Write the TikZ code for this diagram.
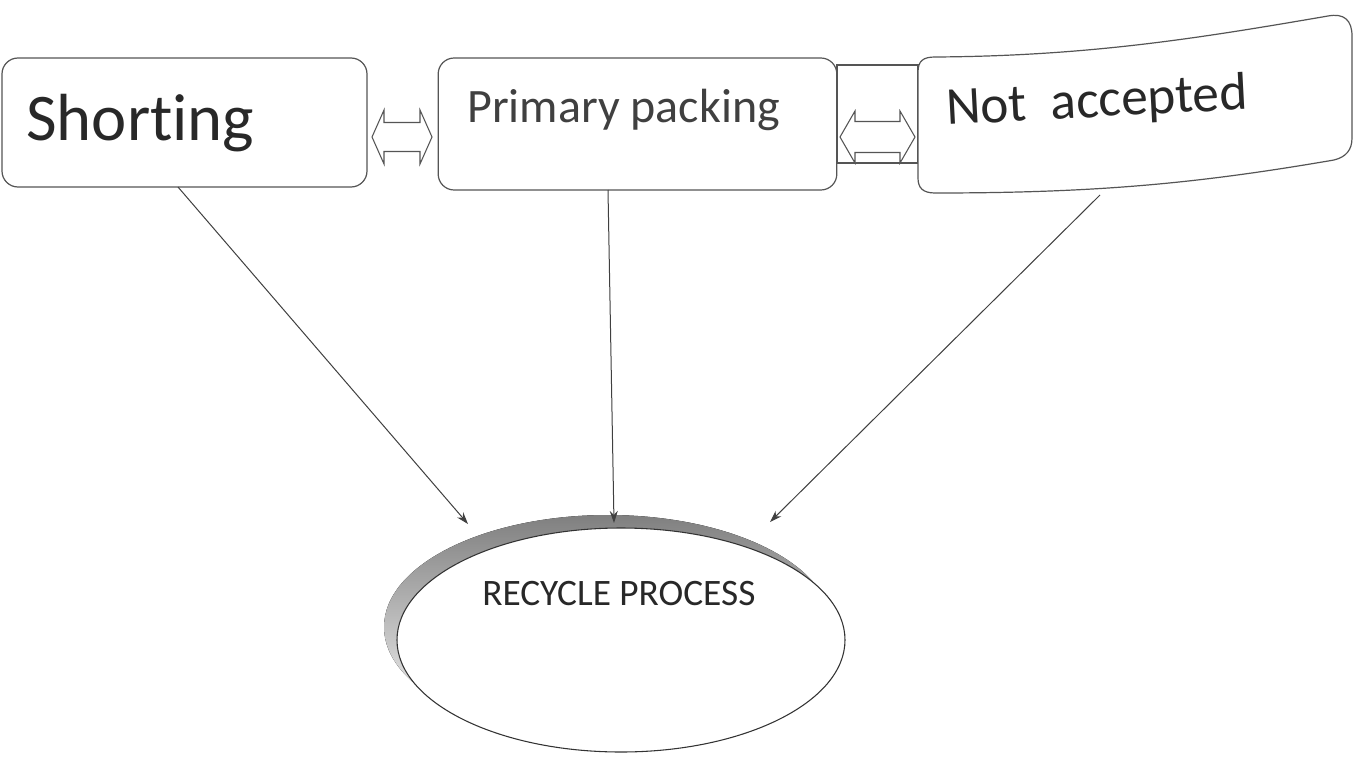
\documentclass[tikz,border=0pt]{standalone}
\usepackage{fontspec}
\setmainfont{Carlito}[Ligatures=NoCommon]
\usetikzlibrary{shapes.geometric,arrows.meta}
\definecolor{edge}{RGB}{85,85,85}
\definecolor{shade}{RGB}{158,168,182}
\definecolor{txt}{RGB}{40,40,40}
\tikzset{
  box/.style={draw=edge, line width=0.9pt, rounded corners=12pt, fill=white, inner sep=0pt},
  lbl/.style={anchor=base west, inner sep=0pt, text=txt},
  conn/.style={draw=black!75, line width=0.75pt, -{Stealth[length=9pt,width=6pt]}},
  hollow/.style={draw=edge, line width=0.8pt, fill=white},
}
\newcommand\dblarrow[7]{% tipL tipR baseL baseR yc headhalf shafthalf
  \draw[hollow] (#1,#5) -- (#3,#5-#6) -- (#3,#5-#7) -- (#4,#5-#7) -- (#4,#5-#6)
    -- (#2,#5) -- (#4,#5+#6) -- (#4,#5+#7) -- (#3,#5+#7) -- (#3,#5+#6) -- cycle;}
\begin{document}
\begin{tikzpicture}[x=0.75pt,y=-0.75pt]
\useasboundingbox[fill=white] (0,0) rectangle (1361,757);
% boxes
\node[box, minimum width=273.75pt, minimum height=96.75pt] (short) at (184.5,122.5) {};
\node[box, minimum width=299pt, minimum height=99pt] (prim) at (637.5,124) {};
% link rectangle between primary and not accepted
\draw[edge, line width=0.8pt] (837,65) rectangle (918,163);
% not accepted wavy box
\draw[draw=edge, line width=0.9pt, fill=white]
  (918,72) .. controls (918,61) and (923,57) .. (935,57)
  .. controls (1090,56) and (1200,38) .. (1328,16)
  .. controls (1344,13) and (1352,20) .. (1352,36)
  -- (1352,138)
  .. controls (1352,150) and (1346,157) .. (1334,160)
  .. controls (1200,183) and (1100,193) .. (935,193)
  .. controls (923,193) and (918,188) .. (918,178) -- cycle;
\node[inner sep=0pt] (notacc) at (1135,110) {};
% hollow double arrows
\dblarrow{372}{432}{384}{420}{137}{27}{14.5}
\dblarrow{840}{915}{855}{900}{137}{26}{15.5}
% labels
\node[lbl, font=\fontsize{50}{50}\selectfont] (tshort) at (26,140) {Shorting};
\node[lbl, font=\fontsize{36}{36}\selectfont, text=black!75] (tprim) at (467,122) {Primary packing};
\node[lbl, font=\fontsize{40}{40}\selectfont, rotate=3] (tnot) at (947,125) {Not\ \ accepted};
% recycle ellipse
\fill[shade] (608,627) ellipse [x radius=224, y radius=112];
\node[ellipse, draw=black!80, line width=0.8pt, fill=white, minimum width=336pt, minimum height=168pt, inner sep=0pt] (rec) at (621,640) {};
\node[lbl, font=\fontsize{28}{28}\selectfont] (trec) at (482,605) {RECYCLE PROCESS};
% connectors
\coordinate (s1) at (178,187);
\coordinate (s2) at (608,190);
\coordinate (s3) at (1100,195);
\coordinate (e1) at (468,524);
\coordinate (e2) at (614,523);
\coordinate (e3) at (770,522);
\draw[conn] (s1) -- (e1);
\draw[conn] (s2) -- (e2);
\draw[conn] (s3) -- (e3);
\end{tikzpicture}
\end{document}
